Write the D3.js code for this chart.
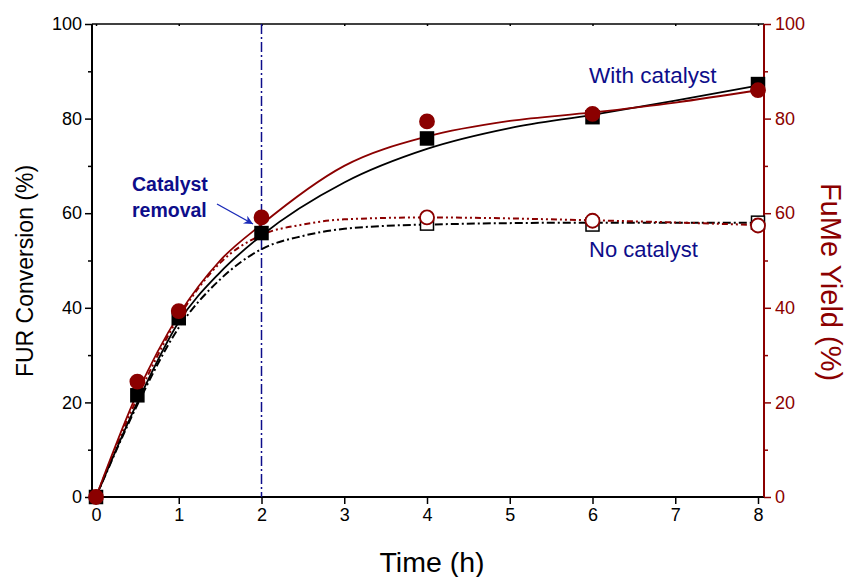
<!DOCTYPE html>
<html>
<head>
<meta charset="utf-8">
<script src="https://cdn.jsdelivr.net/npm/d3@7"></script>
<style>
  body { margin: 0; background: #fff; }
  svg { font-family: "Liberation Sans", Arial, sans-serif; }
</style>
</head>
<body>
<svg class="svgWrapper" width="855" height="577"></svg>
<script>
// measured points
const times = [0, 0.5, 1, 2, 4, 6, 8];
const furWith = [0, 21.5, 37.8, 55.8, 75.8, 80.3, 87.3];
const fumeWith = [0, 24.4, 39.3, 59.1, 79.4, 81, 86];
const timesNo = [4, 6, 8];
const furNo = [57.8, 57.6, 58];
const fumeNo = [59.1, 58.4, 57.4];

// fitted curves
const fitTimes = [0, 0.5, 1, 1.5, 2, 3, 4, 5, 6, 7, 8];
const fitFurWith = [0, 20, 37, 47.5, 55.3, 66.5, 73.6, 78, 80.8, 83.8, 87];
const fitFumeWith = [0, 22, 38.5, 50, 57.6, 70, 76.2, 79.5, 81.3, 83.4, 86];
const fitTimesNo = [0, 0.5, 1, 1.5, 2, 2.5, 3, 4, 6, 8];
const fitFurNo = [0, 19.5, 35.8, 46, 52.4, 55.2, 56.7, 57.6, 58, 58];
const fitFumeNo = [0, 21, 38, 49.5, 55.4, 57.6, 58.7, 59.1, 58.5, 57.5];

const xTicks = [0, 1, 2, 3, 4, 5, 6, 7, 8];
const yTicks = [0, 20, 40, 60, 80, 100];
const yMinor = [10, 30, 50, 70, 90];

const navy = '#0d0d8a';
const red = '#8b0000';

const svgObj = d3.select('.svgWrapper');
const plotLeft = 92, plotRight = 764, plotTop = 24, plotBottom = 497;

const x = d3.scaleLinear().domain([0, 8]).range([96, 758]);
const y = d3.scaleLinear().domain([0, 100]).range([plotBottom, plotTop]);

// frame top line
svgObj.append('line').attr('x1', plotLeft).attr('x2', plotRight).attr('y1', plotTop).attr('y2', plotTop)
  .attr('stroke', '#000').attr('stroke-width', 1.5);

// top axis tiny ticks
svgObj.append('g').attr('transform', `translate(0,${plotTop})`)
  .call(d3.axisBottom(x).tickValues(xTicks).tickSize(2).tickFormat(''))
  .call(g => g.select('.domain').remove())
  .selectAll('line').attr('stroke-width', 1.5);

// bottom axis
const xAxis = svgObj.append('g').attr('transform', `translate(0,${plotBottom})`)
  .call(d3.axisBottom(x).tickValues(xTicks).tickSize(7).tickPadding(4).tickFormat(d3.format('d')));
xAxis.select('.domain').attr('d', `M${plotLeft},0H${plotRight}`).attr('stroke-width', 2);
xAxis.selectAll('line').attr('stroke-width', 1.5);
xAxis.selectAll('text').attr('font-size', 18).attr('fill', '#000').attr('font-family', 'Liberation Sans, Arial');

// left axis
const yAxis = svgObj.append('g').attr('transform', `translate(${plotLeft},0)`)
  .call(d3.axisLeft(y).tickValues(yTicks).tickSize(7).tickPadding(3));
yAxis.select('.domain').attr('d', `M0,${plotTop}V${plotBottom}`).attr('stroke-width', 2);
yAxis.selectAll('line').attr('stroke-width', 1.5);
yAxis.selectAll('text').attr('font-size', 18).attr('fill', '#000').attr('font-family', 'Liberation Sans, Arial');
svgObj.append('g').attr('transform', `translate(${plotLeft},0)`)
  .call(d3.axisLeft(y).tickValues(yMinor).tickSize(4).tickFormat(''))
  .call(g => g.select('.domain').remove())
  .selectAll('line').attr('stroke-width', 1.5);

// right axis
const yAxisR = svgObj.append('g').attr('transform', `translate(${plotRight},0)`)
  .call(d3.axisRight(y).tickValues(yTicks).tickSize(7).tickPadding(4));
yAxisR.select('.domain').attr('d', `M0,${plotTop}V${plotBottom}`).attr('stroke', red).attr('stroke-width', 2);
yAxisR.selectAll('line').attr('stroke', red).attr('stroke-width', 1.5);
yAxisR.selectAll('text').attr('font-size', 18).attr('fill', red).attr('font-family', 'Liberation Sans, Arial');
svgObj.append('g').attr('transform', `translate(${plotRight},0)`)
  .call(d3.axisRight(y).tickValues(yMinor).tickSize(4).tickFormat(''))
  .call(g => g.select('.domain').remove())
  .selectAll('line').attr('stroke', red).attr('stroke-width', 1.5);

// catalyst removal line
svgObj.append('line')
  .attr('x1', x(2)).attr('x2', x(2)).attr('y1', plotTop).attr('y2', plotBottom)
  .attr('stroke', navy).attr('stroke-width', 1.5).attr('stroke-dasharray', '10,3,2,3');

// curves
const line = d3.line().x(d => x(d[0])).y(d => y(d[1])).curve(d3.curveMonotoneX);
function drawCurve(ts, vs, color, dash, w) {
  svgObj.append('path')
    .attr('d', line(ts.map((t, i) => [t, vs[i]])))
    .attr('fill', 'none').attr('stroke', color).attr('stroke-width', w)
    .attr('stroke-dasharray', dash);
}
drawCurve(fitTimesNo, fitFurNo, '#000', '8,3,2,3', 2);
drawCurve(fitTimesNo, fitFumeNo, red, '6,3,2,3,2,3', 2);
drawCurve(fitTimes, fitFurWith, '#000', null, 1.8);
drawCurve(fitTimes, fitFumeWith, red, null, 1.8);

// markers
function squares(ts, vs, fill) {
  svgObj.append('g').selectAll('rect')
    .data(ts.map((t, i) => [t, vs[i]]))
    .enter().append('rect')
    .attr('x', d => x(d[0]) - 6.5).attr('y', d => y(d[1]) - 6.5)
    .attr('width', 13).attr('height', 13)
    .attr('fill', fill).attr('stroke', '#000').attr('stroke-width', 1.5);
}
function circles(ts, vs, fill) {
  svgObj.append('g').selectAll('circle')
    .data(ts.map((t, i) => [t, vs[i]]))
    .enter().append('circle')
    .attr('cx', d => x(d[0])).attr('cy', d => y(d[1])).attr('r', 7)
    .attr('fill', fill).attr('stroke', red).attr('stroke-width', 1.8);
}
squares(timesNo, furNo, '#fff');
circles(timesNo, fumeNo, '#fff');
squares(times, furWith, '#000');
circles(times, fumeWith, red);

// annotations
svgObj.append('text').attr('x', 589).attr('y', 83)
  .attr('font-size', 22.5).attr('fill', navy).text('With catalyst');
svgObj.append('text').attr('x', 589).attr('y', 257)
  .attr('font-size', 22).attr('fill', navy).text('No catalyst');
const rem = svgObj.append('text').attr('font-size', 19.5).attr('font-weight', 'bold').attr('fill', navy);
rem.append('tspan').attr('x', 132).attr('y', 191).text('Catalyst');
rem.append('tspan').attr('x', 132).attr('y', 217).text('removal');

svgObj.append('defs').append('marker')
  .attr('id', 'arr').attr('viewBox', '0 0 10 10').attr('refX', 10).attr('refY', 5)
  .attr('markerWidth', 14).attr('markerHeight', 9).attr('markerUnits', 'userSpaceOnUse')
  .attr('orient', 'auto')
  .append('path').attr('d', 'M0,0L10,5L0,10L3,5Z').attr('fill', '#1a2ab8');
svgObj.append('line').attr('x1', 217).attr('y1', 204).attr('x2', 253).attr('y2', 224)
  .attr('stroke', '#1a2ab8').attr('stroke-width', 1.4).attr('marker-end', 'url(#arr)');

// axis titles
svgObj.append('text').attr('x', 432).attr('y', 572).attr('text-anchor', 'middle')
  .attr('font-size', 28.5).attr('fill', '#000').text('Time (h)');
svgObj.append('text').attr('transform', 'translate(33,271) rotate(-90)').attr('text-anchor', 'middle')
  .attr('font-size', 23).attr('fill', '#000').text('FUR Conversion (%)');
svgObj.append('text').attr('transform', 'translate(821,282) rotate(90)').attr('text-anchor', 'middle')
  .attr('font-size', 29).attr('fill', red).text('FuMe Yield (%)');
</script>
</body>
</html>
